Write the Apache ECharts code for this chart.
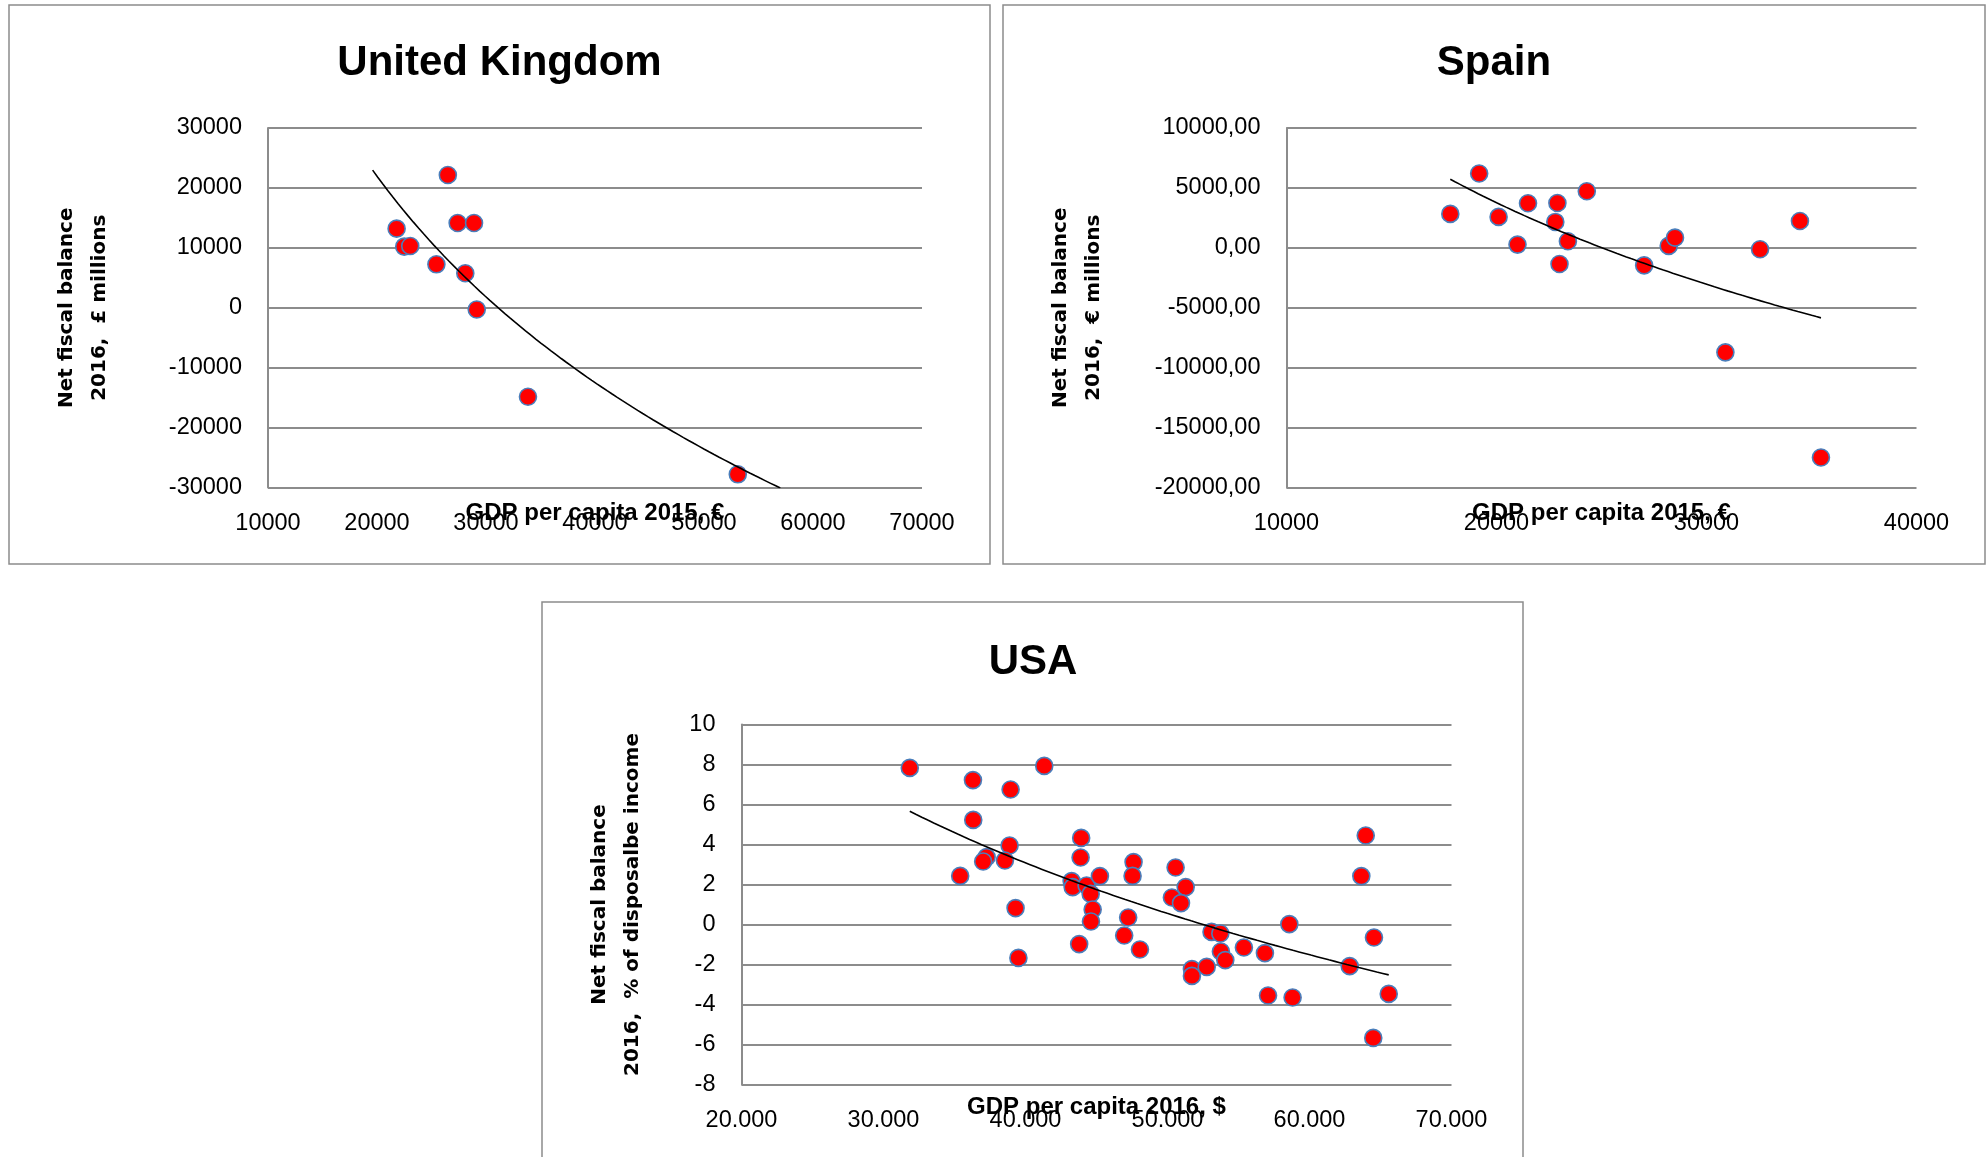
<!DOCTYPE html>
<html>
<head>
<meta charset="utf-8">
<script src="https://cdn.jsdelivr.net/npm/echarts@6/dist/echarts.min.js"></script>
<style>
html,body{margin:0;padding:0;background:#fff;}
#chart{width:1986px;height:1157px;}
</style>
</head>
<body>
<div id="chart"></div>
<script>
// ---------- DATA ----------
const titles = ['United Kingdom', 'Spain', 'USA'];
const xNames = ['GDP per capita 2015, €', 'GDP per capita 2015, €', 'GDP per capita 2016, $'];
const yNames = ['Net fiscal balance\n2016,  £ millions',
                'Net fiscal balance\n2016,  € millions',
                'Net fiscal balance\n2016,  % of disposalbe income'];

// United Kingdom: GDP per capita 2015 (€) vs net fiscal balance 2016 (£ millions)
const ukGdp     = [26500, 27400, 28900, 21800, 22500, 23050, 25450, 28100, 29150, 33850, 53100];
const ukBalance = [22150, 14150, 14150, 13200, 10200, 10300, 7250, 5750, -300, -14850, -27800];

// Spain: GDP per capita 2015 (€) vs net fiscal balance 2016 (€ millions)
const esGdp     = [19175, 17800, 20100, 21500, 22900, 24300, 22800, 23400, 21000, 23000, 27030, 28200, 28500, 32550, 34450, 30900, 35450];
const esBalance = [6200, 2830, 2580, 3720, 3740, 4720, 2160, 550, 270, -1350, -1460, 160, 850, -120, 2240, -8720, -17500];

// USA: GDP per capita 2016 ($) vs net fiscal balance 2016 (% of disposable income)
const usGdp = [31850, 36300, 38950, 36320, 38880, 37260, 37020, 38550, 35400, 39300, 39500, 41320,
               43920, 43880, 43250, 43320, 44300, 44590, 45240, 44730, 44610, 43780,
               47610, 47540, 47230, 46950, 48060, 50570, 51280, 50310, 50950,
               53100, 53720, 53760, 54070, 51720, 51720, 52760, 55380, 56860, 58580, 57080, 58810,
               62830, 63960, 63650, 64540, 65580, 64490];
const usBalance = [7.83, 7.22, 6.75, 5.23, 3.95, 3.37, 3.15, 3.20, 2.43, 0.82, -1.67, 7.93,
                   4.33, 3.35, 2.17, 1.87, 1.95, 1.53, 2.42, 0.75, 0.15, -0.98,
                   3.12, 2.43, 0.35, -0.55, -1.25, 2.85, 1.87, 1.35, 1.07,
                   -0.37, -0.45, -1.35, -1.78, -2.23, -2.57, -2.12, -1.15, -1.43, 0.02, -3.55, -3.65,
                   -2.08, 4.45, 2.42, -0.65, -3.47, -5.67];

// Axis ranges [min, max, interval]
const xRanges = [[10000, 70000, 10000], [10000, 40000, 10000], [20000, 70000, 10000]];
const yRanges = [[-30000, 30000, 10000], [-20000, 10000, 5000], [-8, 10, 2]];

// x-span of each logarithmic trendline (UK one is forecast beyond the data)
const trendSpans = [[19600, 57000], [17800, 35450], [31850, 65580]];

// ---------- helpers ----------
function logFit(xs, ys) {
  const n = xs.length;
  const lx = xs.map(Math.log);
  const mx = lx.reduce((s, v) => s + v, 0) / n;
  const my = ys.reduce((s, v) => s + v, 0) / n;
  let sxy = 0, sxx = 0;
  for (let i = 0; i < n; i++) { sxy += (lx[i] - mx) * (ys[i] - my); sxx += (lx[i] - mx) * (lx[i] - mx); }
  const b = sxy / sxx;
  return { a: my - b * mx, b: b };
}
function trendLine(xs, ys, span) {
  const f = logFit(xs, ys);
  const pts = [];
  const steps = 80;
  for (let i = 0; i <= steps; i++) {
    const x = span[0] + (span[1] - span[0]) * i / steps;
    pts.push([x, f.a + f.b * Math.log(x)]);
  }
  return pts;
}
const pairs = (xs, ys) => xs.map((x, i) => [x, ys[i]]);

const FONT = "'Liberation Sans', Arial, sans-serif";
const NAMEFONT = "'DejaVu Sans', Verdana, sans-serif";
const GRIDCOL = '#8c8c8c';

const grids = [
  { left: 268, top: 128, width: 654, height: 359.5 },
  { left: 1286.5, top: 128, width: 630, height: 359.5 },
  { left: 741.5, top: 724.5, width: 710, height: 360 }
];
const yNameGaps = [152, 176, 92];
const xNameGaps = [13.5, 13.5, 10.5];
const xFormat = [v => String(v), v => String(v), v => (v / 1000).toFixed(3)];
const yFormat = [v => String(v), v => v.toFixed(2).replace('.', ','), v => String(v)];
const titleCenters = [499.5, 1494, 1033];
const titleTops = [42.5, 42.5, 641];

const xAxes = [], yAxes = [], titleOpts = [];
for (let i = 0; i < 3; i++) {
  xAxes.push({
    type: 'value', gridIndex: i,
    min: xRanges[i][0], max: xRanges[i][1], interval: xRanges[i][2],
    name: xNames[i], nameLocation: 'middle', nameGap: xNameGaps[i], nameMoveOverlap: false,
    nameTextStyle: { fontFamily: FONT, fontWeight: 'bold', fontSize: 24, color: '#000' },
    axisLine: { show: false }, axisTick: { show: false },
    splitLine: { show: false },
    axisLabel: { fontFamily: FONT, fontSize: 23.5, color: '#000', margin: 24.5, formatter: xFormat[i] }
  });
  yAxes.push({
    type: 'value', gridIndex: i,
    min: yRanges[i][0], max: yRanges[i][1], interval: yRanges[i][2],
    name: yNames[i], nameLocation: 'middle', nameGap: yNameGaps[i], nameRotate: 90, nameMoveOverlap: false,
    nameTextStyle: { fontFamily: NAMEFONT, fontWeight: 'bold', fontSize: 20, color: '#000', lineHeight: 33, align: 'center' },
    axisLine: { show: true, onZero: false, lineStyle: { color: GRIDCOL, width: 2 } },
    axisTick: { show: false },
    splitLine: { show: true, lineStyle: { color: GRIDCOL, width: 2 } },
    axisLabel: { fontFamily: FONT, fontSize: 23.5, color: '#000', margin: 26, padding: [5, 0, 0, 0], formatter: yFormat[i] }
  });
  titleOpts.push({
    text: titles[i], left: titleCenters[i], top: titleTops[i], textAlign: 'center', padding: 0,
    textStyle: { fontFamily: FONT, fontWeight: 'bold', fontSize: 42, color: '#000' }
  });
}

const datasets = [[ukGdp, ukBalance], [esGdp, esBalance], [usGdp, usBalance]];
const series = [];
datasets.forEach((d, i) => {
  series.push({
    type: 'scatter', xAxisIndex: i, yAxisIndex: i, data: pairs(d[0], d[1]),
    symbol: 'circle', symbolSize: 17,
    itemStyle: { color: '#ff0000', borderColor: '#4a7ebb', borderWidth: 1.6, opacity: 1 },
    z: 2
  });
  series.push({
    type: 'line', xAxisIndex: i, yAxisIndex: i, data: trendLine(d[0], d[1], trendSpans[i]),
    showSymbol: false, symbol: 'none', clip: true,
    lineStyle: { color: '#000', width: 1.6 }, z: 3
  });
});

const chart = echarts.init(document.getElementById('chart'), null, { renderer: 'canvas' });
chart.setOption({
  animation: false,
  backgroundColor: '#fff',
  title: titleOpts,
  grid: grids,
  xAxis: xAxes,
  yAxis: yAxes,
  series: series,
  graphic: [
    { type: 'rect', shape: { x: 9, y: 5, width: 981, height: 559 }, style: { fill: 'none', stroke: GRIDCOL, lineWidth: 1.5 }, silent: true },
    { type: 'rect', shape: { x: 1003, y: 5, width: 982, height: 559 }, style: { fill: 'none', stroke: GRIDCOL, lineWidth: 1.5 }, silent: true },
    { type: 'rect', shape: { x: 542, y: 602, width: 981, height: 600 }, style: { fill: 'none', stroke: GRIDCOL, lineWidth: 1.5 }, silent: true }
  ]
});
</script>
</body>
</html>
